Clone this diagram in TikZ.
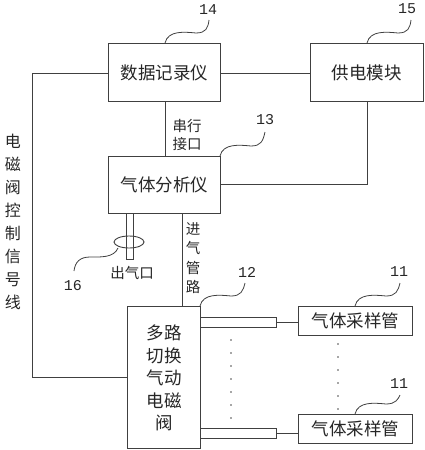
\documentclass[tikz,border=0pt]{standalone}
\usepackage{fontspec}
\newfontfamily\cjk{Noto Sans CJK SC}
\setmonofont{Liberation Mono}
\begin{document}
\begin{tikzpicture}[x=1pt,y=-1pt,line width=0.9pt,color=black!75,
  box/.style={draw,line width=0.9pt,inner sep=0pt,anchor=north west},
  txt/.style={font=\cjk\fontsize{17.5}{17.5}\selectfont,text=black!85,inner sep=0pt},
  vtxt/.style={font=\cjk\fontsize{16}{16}\selectfont,text=black!85,inner sep=0pt},
  stxt/.style={font=\cjk\fontsize{14.5}{14.5}\selectfont,text=black!85,inner sep=0pt},
  num/.style={font=\ttfamily\fontsize{15}{15}\selectfont,text=black!85,inner sep=0pt},
  lead/.style={line width=0.8pt}]
\useasboundingbox (0,0) rectangle (424,450);
% boxes
\node[box,minimum width=112pt,minimum height=58pt] (dl) at (108,43) {};
\node[txt] at (dl.center) {数据记录仪};
\node[box,minimum width=113pt,minimum height=58pt] (pw) at (310,43) {};
\node[txt] at (pw.center) {供电模块};
\node[box,minimum width=112pt,minimum height=57pt] (ga) at (108,156) {};
\node[txt] at (ga.center) {气体分析仪};
\node[box,minimum width=73pt,minimum height=142pt] (sv) at (127,306) {};
\node[txt,align=center] at (164,378) {多路\\[5pt]切换\\[5pt]气动\\[5pt]电磁\\[5pt]阀};
\node[box,minimum width=114pt,minimum height=29pt] (st1) at (298,306) {};
\node[txt] at (st1.center) {气体采样管};
\node[box,minimum width=114pt,minimum height=29pt] (st2) at (298,414) {};
\node[txt] at (st2.center) {气体采样管};
% connectors
\coordinate (c1) at (32,73);
\coordinate (c2) at (32,377);
\draw (dl.west |- 0,73) -- (c1) -- (c2) -- (sv.west |- c2);
\draw (dl.east |- 0,73) -- (pw.west |- 0,73);
\draw (165,101) -- (165,156);
\coordinate (c3) at (367,184);
\draw (367,101) -- (c3) -- (ga.east |- c3);
\draw (182,213) -- (182,306);
% outlet tube
\draw (126,213) -- (126,259) -- (133,259) -- (133,213);
\draw (129,242) ellipse [x radius=15, y radius=6];
% pipes
\draw (200,317) rectangle (276,327);
\draw (276,322) -- (st1.west |- 0,322);
\draw (200,428) rectangle (276,438);
\draw (276,433) -- (st2.west |- 0,433);
% dots
\foreach \yy in {340,353,366,379,392,405,418} \fill[black!70] (231,\yy) circle (0.9);
\foreach \yy in {344,357,370,383,396,409} \fill[black!70] (338,\yy) circle (0.9);
% texts
\node[stxt,align=left] at (187,135) {串行\\[4pt]接口};
\node[stxt,align=center] at (193,258) {进\\[5pt]气\\[5pt]管\\[5pt]路};
\node[stxt] at (132,273) {出气口};
\node[vtxt,align=center] at (13,222) {电\\[7pt]磁\\[7pt]阀\\[7pt]控\\[7pt]制\\[7pt]信\\[7pt]号\\[7pt]线};
% labels
\node[num] (n14) at (208,10) {14};
\node[num] (n15) at (407,9) {15};
\node[num] (n13) at (265,120) {13};
\node[num] (n16) at (73,286) {16};
\node[num] (n12) at (247,272) {12};
\node[num] (n11a) at (399,272) {11};
\node[num] (n11b) at (399,384) {11};
\draw[lead] (165,43) .. controls (168,30) and (185,32) .. (196,33) .. controls (206,33) and (208,28) .. (209,20);
\draw[lead] (367,43) .. controls (370,30) and (387,32) .. (398,33) .. controls (408,33) and (410,28) .. (411,20);
\draw[lead] (220,156) .. controls (223,143) and (240,145) .. (251,146) .. controls (261,146) and (263,141) .. (265,132);
\draw[lead] (200,306) .. controls (203,293) and (220,295) .. (231,296) .. controls (241,296) and (243,291) .. (245,283);
\draw[lead] (355,306) .. controls (358,293) and (375,295) .. (386,296) .. controls (396,296) and (398,291) .. (400,283);
\draw[lead] (355,414) .. controls (358,401) and (375,403) .. (386,404) .. controls (396,404) and (398,399) .. (400,395);
\draw[lead] (118,248) .. controls (114,258) and (100,257) .. (90,257) .. controls (80,257) and (75,262) .. (74,271);
\end{tikzpicture}
\end{document}
